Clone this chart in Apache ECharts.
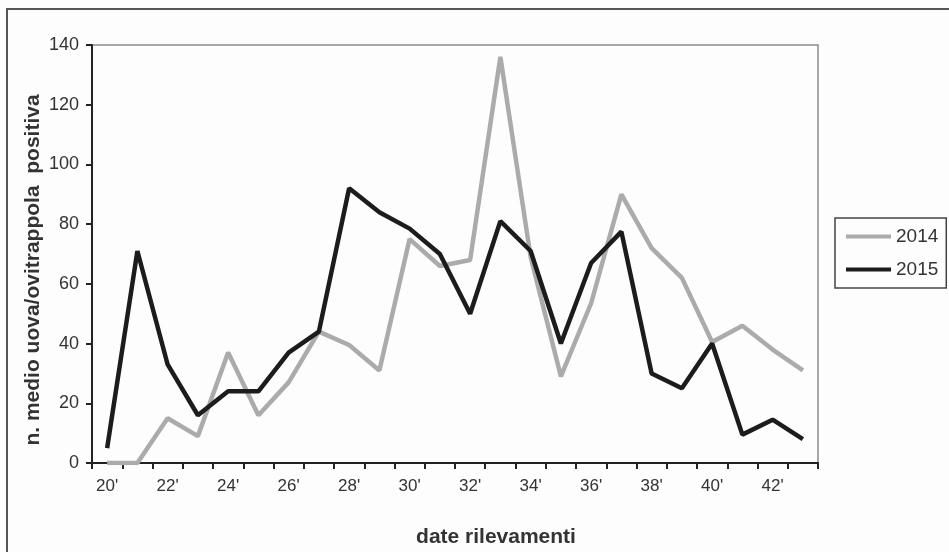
<!DOCTYPE html>
<html>
<head>
<meta charset="utf-8">
<script src="https://cdn.jsdelivr.net/npm/echarts@6/dist/echarts.min.js"></script>
<style>html,body{margin:0;padding:0;background:#fdfdfd;}#c{width:949px;height:552px;}</style>
</head>
<body>
<div id="c"></div>
<script>
const categories = ["20'","21'","22'","23'","24'","25'","26'","27'","28'","29'","30'","31'","32'","33'","34'","35'","36'","37'","38'","39'","40'","41'","42'","43'"];
const values2014 = [0, 0, 15, 9, 37, 16, 27, 44, 39.5, 31, 75, 66, 68, 136, 69, 29, 53.5, 90, 72, 62, 40.5, 46, 38, 31];
const values2015 = [5, 71, 33, 16, 24, 24, 37, 44, 92, 84, 78.5, 70, 50, 81, 71, 40, 67, 77.5, 30, 25, 40, 9.5, 14.5, 8];
const yTicks = [0, 20, 40, 60, 80, 100, 120, 140];

const font = "'Liberation Sans', Arial, sans-serif";
const chart = echarts.init(document.getElementById('c'));
chart.setOption({
  backgroundColor: '#fdfdfd',
  animation: false,
  grid: { left: 92, right: 131, top: 45, bottom: 89, show: true, borderColor: '#8a8a8a', borderWidth: 1.5 },
  legend: {
    orient: 'vertical', left: 835, top: 218,
    padding: [9, 8, 9, 11], itemGap: 14,
    borderColor: '#444', borderWidth: 1.5,
    itemWidth: 45, itemHeight: 4, icon: 'rect',
    textStyle: { fontFamily: font, fontSize: 19, color: '#333', padding: [0, 0, 0, 0] },
    data: ['2014', '2015']
  },
  xAxis: {
    type: 'category', data: categories, boundaryGap: true,
    axisLine: { lineStyle: { color: '#222', width: 2 } },
    axisTick: { show: true, interval: 0, length: 6, lineStyle: { color: '#222', width: 2 } },
    axisLabel: { interval: 1, fontFamily: font, fontSize: 17, color: '#333', margin: 15 },
    splitLine: { show: false }
  },
  yAxis: {
    type: 'value', min: yTicks[0], max: yTicks[yTicks.length - 1], interval: 20,
    axisLine: { show: true, lineStyle: { color: '#222', width: 2 } },
    axisTick: { show: true, length: 6, lineStyle: { color: '#222', width: 2 } },
    axisLabel: { fontFamily: font, fontSize: 18, color: '#333', margin: 13 },
    splitLine: { show: false }
  },
  series: [
    { name: '2014', type: 'line', data: values2014, symbol: 'none', lineStyle: { color: '#ababab', width: 4.5 }, itemStyle: { color: '#ababab' } },
    { name: '2015', type: 'line', data: values2015, symbol: 'none', lineStyle: { color: '#1c1c1c', width: 4.5 }, itemStyle: { color: '#1c1c1c' } }
  ],
  graphic: [
    { type: 'rect', shape: { x: 7, y: 9, width: 1000, height: 600 }, style: { fill: 'none', stroke: '#555', lineWidth: 2 }, silent: true },
    { type: 'text', x: 496, y: 537, style: { text: 'date rilevamenti', font: 'bold 21px ' + font, fill: '#333', textAlign: 'center', textVerticalAlign: 'middle' } },
    { type: 'text', x: 33, y: 270, rotation: Math.PI / 2, style: { text: 'n. medio uova/ovitrappola  positiva', font: 'bold 21px ' + font, fill: '#333', textAlign: 'center', textVerticalAlign: 'middle' } }
  ]
});
</script>
</body>
</html>
